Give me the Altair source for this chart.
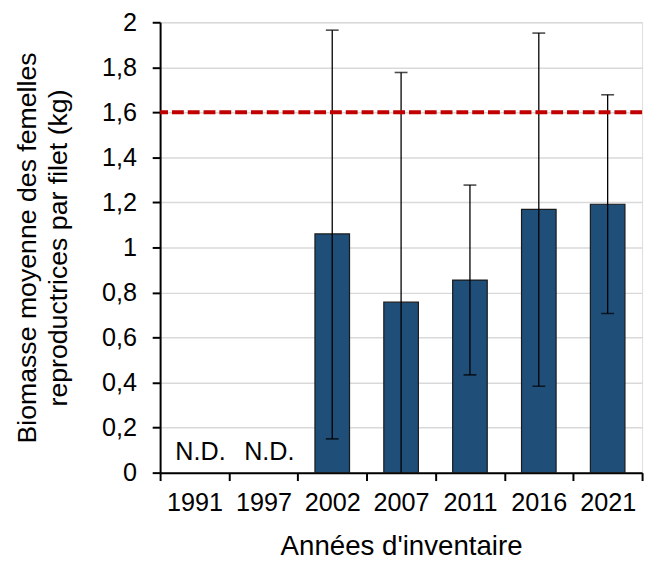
import altair as alt
import pandas as pd

years = ["1991", "1997", "2002", "2007", "2011", "2016", "2021"]
bar_years = ["2002", "2007", "2011", "2016", "2021"]
means = [1.06, 0.757, 0.855, 1.169, 1.192]
upper = [1.965, 1.777, 1.277, 1.952, 1.678]
lower = [0.15, -0.3, 0.434, 0.384, 0.707]
nd_years = ["1991", "1997"]
nd_labels = ["N.D.", "N.D."]
threshold = 1.6

df = pd.DataFrame({"year": bar_years, "mean": means, "hi": upper, "lo": lower})
nd = pd.DataFrame({"year": nd_years, "label": nd_labels, "y": [0.1, 0.1]})
th = pd.DataFrame({"t": [threshold]})

FONT = "Liberation Sans"

xscale = alt.Scale(domain=years, paddingInner=0, paddingOuter=0)
yscale = alt.Scale(domain=[0, 2], nice=False)

xenc = alt.X("year:N", scale=xscale, sort=years,
             axis=alt.Axis(title="Années d'inventaire", labelAngle=0, tickBand="extent",
                           labelFontSize=25.5, titleFontSize=28, labelFont=FONT, titleFont=FONT,
                           labelColor="black", titleColor="black", titleFontWeight="normal",
                           domainColor="black", domainWidth=2, tickColor="black", tickWidth=2,
                           tickSize=8, labelPadding=10, titlePadding=17, grid=False))

bars = alt.Chart(df).mark_bar(size=35, color="#1F4E79", stroke="#1a1a1a", strokeWidth=1.2).encode(
    x=xenc,
    y=alt.Y("mean:Q", scale=yscale,
            axis=alt.Axis(title=["Biomasse moyenne des femelles", "reproductrices par filet (kg)"],
                          values=[0, 0.2, 0.4, 0.6, 0.8, 1, 1.2, 1.4, 1.6, 1.8, 2],
                          labelExpr="replace(format(datum.value, '.1~f'), '.', ',')",
                          labelFontSize=25.5, titleFontSize=27, labelFont=FONT, titleFont=FONT,
                          labelColor="black", titleColor="black", titleFontWeight="normal",
                          titleLineHeight=32,
                          domainColor="black", domainWidth=2, tickColor="black", tickWidth=2,
                          tickSize=8, labelPadding=16, titlePadding=29,
                          gridColor="#d9d9d9", gridWidth=1.5)),
)

rules = alt.Chart(df).mark_rule(color="black", strokeWidth=1.3, clip=True).encode(
    x=alt.X("year:N", scale=xscale, sort=years),
    y=alt.Y("lo:Q", scale=yscale),
    y2="hi:Q",
)

caps_hi = alt.Chart(df).mark_tick(color="black", thickness=1.6, size=13, orient="horizontal").encode(
    x=alt.X("year:N", scale=xscale, sort=years),
    y=alt.Y("hi:Q", scale=yscale),
)
caps_lo = alt.Chart(df).mark_tick(color="black", thickness=1.6, size=13, orient="horizontal", clip=True).encode(
    x=alt.X("year:N", scale=xscale, sort=years),
    y=alt.Y("lo:Q", scale=yscale),
)

thresh = alt.Chart(th).mark_rule(color="#C00000", strokeWidth=4, strokeDash=[12, 4]).encode(
    y=alt.Y("t:Q", scale=yscale)
)

ndtext = alt.Chart(nd).mark_text(fontSize=25.5, font=FONT, color="black", baseline="middle", dx=6, dy=2).encode(
    x=alt.X("year:N", scale=xscale, sort=years),
    y=alt.Y("y:Q", scale=yscale),
    text="label:N",
)

chart = alt.layer(bars, rules, caps_hi, caps_lo, thresh, ndtext).properties(
    width=488, height=456,
    autosize=alt.AutoSizeParams(type="none"),
    padding={"left": 154, "top": 11, "right": 7, "bottom": 85},
).configure_view(stroke=None).configure(background="white")

chart.save("out.html", embed_options={"renderer": "svg", "actions": False})
